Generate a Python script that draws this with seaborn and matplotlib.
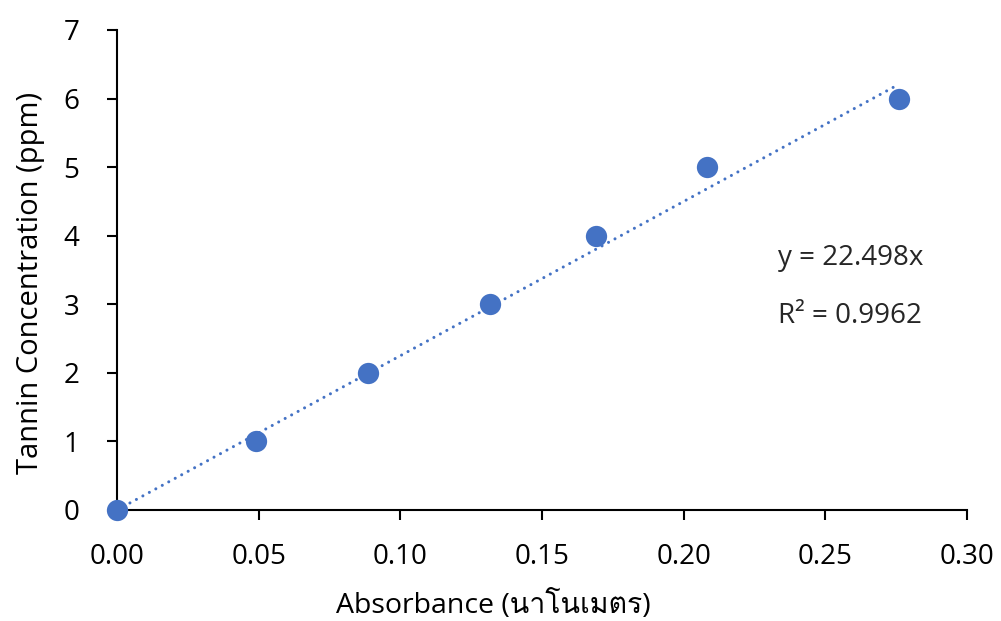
import numpy as np
import pandas as pd
import matplotlib
matplotlib.use("Agg")
import matplotlib.pyplot as plt
import seaborn as sns
from matplotlib import font_manager as fm
from matplotlib.ft2font import FT2Font

absorbance = [0.0, 0.0491, 0.0886, 0.1318, 0.169, 0.2081, 0.276]
concentration = [0, 1, 2, 3, 4, 5, 6]
slope = 22.498
r2 = 0.9962
x_ticks = [0.00, 0.05, 0.10, 0.15, 0.20, 0.25, 0.30]
y_ticks = [0, 1, 2, 3, 4, 5, 6, 7]

sns.set_theme(style="ticks")
thai_font = None
for f in fm.fontManager.ttflist:
    try:
        cm = FT2Font(f.fname).get_charmap()
        if 0x0E19 in cm and 0x0E42 in cm:
            thai_font = f.name
            break
    except Exception:
        pass
fams = ["Open Sans", "DejaVu Sans"]
if thai_font:
    fams = ["Open Sans", thai_font, "DejaVu Sans"]
plt.rcParams["font.family"] = fams

df = pd.DataFrame({"Absorbance": absorbance, "Conc": concentration})

fig = plt.figure(figsize=(10.01, 6.21), dpi=100)
ax = fig.add_axes([117 / 1001, 1 - 510 / 621, 850 / 1001, 480 / 621])

x_end = 6.18 / slope
xl = np.array([0, x_end])
ax.plot(xl, slope * xl, linestyle=(0, (0.01, 2.4)), color="#4472C4", linewidth=2.2, zorder=2,
        dash_capstyle="round", solid_capstyle="round")
sns.scatterplot(data=df, x="Absorbance", y="Conc", ax=ax, s=235, color="#4472C4",
                edgecolor="#4472C4", linewidth=0, zorder=3, clip_on=False)

ax.set_xlim(0, 0.30)
ax.set_ylim(0, 7)
ax.set_xticks(x_ticks)
ax.set_xticklabels([f"{v:.2f}" for v in x_ticks])
ax.set_yticks(y_ticks)
ax.set_yticklabels([str(v) for v in y_ticks])
for s in ["top", "right"]:
    ax.spines[s].set_visible(False)
for s in ["left", "bottom"]:
    ax.spines[s].set_color("black")
    ax.spines[s].set_linewidth(1.5)
ax.tick_params(axis="both", direction="out", length=7, width=1.5, colors="black",
               labelsize=20)
ax.tick_params(axis="x", pad=17)
ax.tick_params(axis="y", pad=20)
ax.set_xlabel("Absorbance (นาโนเมตร)", fontsize=20.5, color="black")
ax.set_ylabel("Tannin Concentration (ppm)", fontsize=21, color="black")
ax.xaxis.set_label_coords((493 - 117) / 850, (510 - 590) / 480)
ax.yaxis.set_label_coords((45 - 117) / 850, (510 - 283) / 480)
ax.text(0.2333, 3.67, f"y = {slope:.3f}x", fontsize=20, color="#262626", va="center")
ax.text(0.2333, 2.83, f"R² = {r2:.4f}", fontsize=20, color="#262626", va="center")
ax.grid(False)

fig.savefig("out.png", dpi=100)
